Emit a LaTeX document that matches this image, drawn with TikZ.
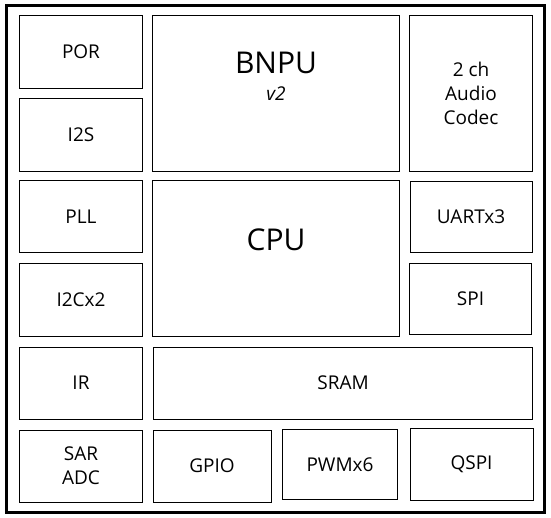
\documentclass[tikz,border=0pt]{standalone}
\usepackage{fontspec}
\setmainfont{Open Sans}

\begin{document}
\begin{tikzpicture}
			[x=1pt,y=-1pt,
			block/.style={draw,line width=1pt,inner sep=0pt,align=center,font=\fontsize{19}{24}\selectfont},
			side/.style={block,minimum width=123pt,minimum height=72pt},
			big/.style={font=\fontsize{30}{34}\selectfont}]
			\useasboundingbox (0,0) rectangle (551,518);
			\draw[line width=3pt] (6.5,5.5) rectangle (544,512.5);
			% left column
			\node[side,minimum height=73pt] (por) at (81,52) {POR};
			\node[side,minimum height=73pt] (i2s) at (81,135) {I2S};
			\node[side] (pll) at (81,217) {PLL};
			\node[side] (i2c) at (81,300) {I2Cx2};
			\node[side] (ir) at (81,383) {IR};
			\node[side] (adc) at (81,466) {SAR\\ADC};
			% core
			\node[block,minimum width=247pt,minimum height=156pt] (bnpu) at (276,93.5) {};
			\node[big,anchor=base] (bnputxt) at (276,74) {BNPU};
			\node[font=\fontsize{19}{22}\selectfont\itshape,anchor=base] (bnpuver) at (276,101) {v2};
			\node[block,minimum width=247pt,minimum height=155pt] (cpu) at (276,258.5) {};
			\node[big] (cputxt) at (276,240) {CPU};
			% right column
			\node[side,minimum height=156pt] (codec) at (471,93.5) {2 ch\\Audio\\Codec};
			\node[side,minimum width=122pt,minimum height=71pt] (uart) at (471,217) {UARTx3};
			\node[side,minimum width=122pt,minimum height=70pt] (spi) at (470.5,299) {SPI};
			% bottom
			\node[block,minimum width=379pt,minimum height=72pt] (sram) at (343,383) {SRAM};
			\node[block,minimum width=118pt,minimum height=72pt] (gpio) at (212,466) {GPIO};
			\node[block,minimum width=115pt,minimum height=70pt] (pwm) at (340,464.5) {PWMx6};
			\node[side] (qspi) at (471.5,464.5) {QSPI};
		\end{tikzpicture}
\end{document}
